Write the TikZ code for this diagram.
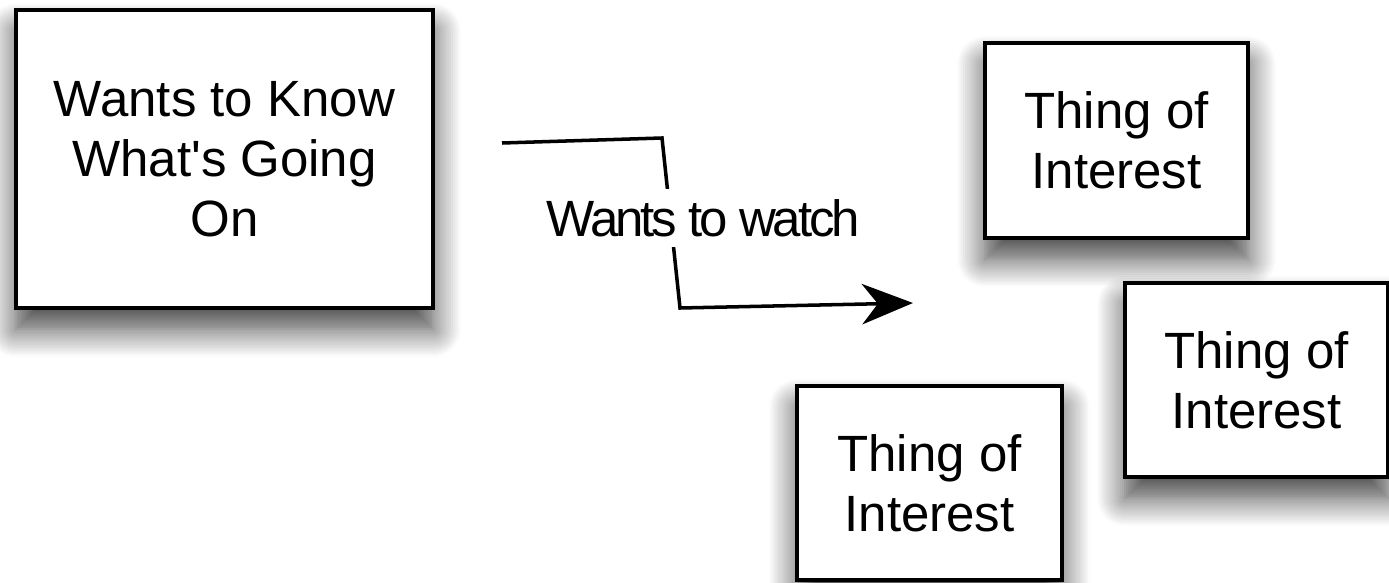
\documentclass[tikz,border=0pt]{standalone}
\usepackage{fontspec}
\setmainfont{Liberation Sans}
\newfontfamily\tightfont[LetterSpace=-6]{Liberation Sans}
\usetikzlibrary{arrows.meta,shadows.blur}

\begin{document}
\begin{tikzpicture}[x=0.01cm,y=-0.01cm,
  >={Stealth[length=14.5pt,width=11.5pt,inset=4.5pt]},
  thing/.style={draw,line width=1.2pt,fill=white,align=center,inner sep=0pt,
    font=\fontsize{14.5}{17.1}\selectfont,
    blur shadow={shadow xshift=0pt,shadow yshift=-6pt,shadow blur radius=8pt,
      shadow blur steps=14,shadow opacity=75}},
  watchlabel/.style={fill=white,inner sep=3pt,font=\fontsize{14.5}{17.1}\tightfont}]
  \useasboundingbox (0,0) rectangle (1389,582);

  % the one who watches
  \node[thing,minimum width=4.17cm,minimum height=2.98cm] (watcher) at (224.5,159)
    {Wants to Know\\What\textquotesingle s Going\\On};

  % the things being watched
  \node[thing,minimum width=2.63cm,minimum height=1.95cm] (thingA) at (1116.5,140.5)
    {Thing of\\Interest};
  \node[thing,minimum width=2.63cm,minimum height=1.94cm] (thingB) at (1256.5,380)
    {Thing of\\Interest};
  \node[thing,minimum width=2.65cm,minimum height=1.94cm] (thingC) at (929.5,483)
    {Thing of\\Interest};

  % the hand-drawn bent arrow
  \coordinate (from) at (502,143);
  \coordinate (bendA) at (662,138);
  \coordinate (bendB) at (680,308);
  \coordinate (to) at (913,303);
  \draw[->,line width=1pt] (from) -- (bendA)
    -- node[watchlabel,pos=0.47,xshift=0.33cm] (watchtext) {Wants to watch} (bendB) -- (to);
\end{tikzpicture}
\end{document}
